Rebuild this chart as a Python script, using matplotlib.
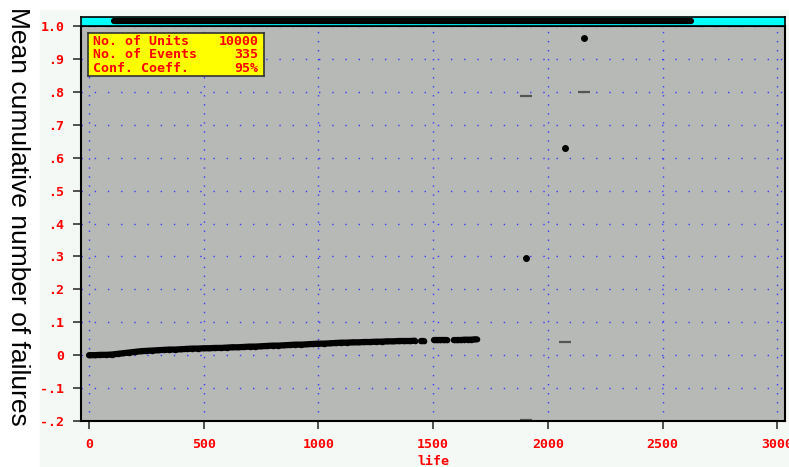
import matplotlib
matplotlib.use("Agg")
import matplotlib.pyplot as plt
from matplotlib.patches import Rectangle

# mean cumulative number of failures
life = [0, 25, 50, 75, 100, 125, 150, 175, 200, 225, 250, 275, 300, 325, 350,
        375, 400, 425, 450, 475, 500, 525, 550, 575, 600, 625, 650, 675, 700,
        725, 750, 775, 800, 825, 850, 875, 900, 925, 950, 975, 1000, 1025,
        1050, 1075, 1100, 1125, 1150, 1175, 1200, 1225, 1250, 1275, 1300,
        1325, 1350, 1375, 1400, 1420, 1448, 1462, 1502, 1517, 1532, 1547,
        1560, 1590, 1605, 1620, 1635, 1650, 1665, 1680, 1690]
mcf = [0.000, 0.000, 0.001, 0.001, 0.002, 0.004, 0.006, 0.008, 0.010, 0.012,
       0.013, 0.014, 0.015, 0.016, 0.017, 0.017, 0.018, 0.019, 0.020, 0.020,
       0.021, 0.021, 0.022, 0.022, 0.023, 0.024, 0.024, 0.025, 0.026, 0.026,
       0.027, 0.028, 0.029, 0.029, 0.030, 0.031, 0.032, 0.032, 0.033, 0.034,
       0.035, 0.035, 0.036, 0.037, 0.038, 0.038, 0.039, 0.039, 0.040, 0.040,
       0.041, 0.041, 0.042, 0.042, 0.043, 0.043, 0.043, 0.044, 0.044, 0.044,
       0.045, 0.045, 0.045, 0.045, 0.045, 0.046, 0.046, 0.046, 0.047, 0.047,
       0.047, 0.048, 0.048]

life_late = [1905, 2077, 2157]
mcf_late = [0.296, 0.629, 0.963]

# confidence bound dashes
bound_life = [1905, 1905, 2077, 2157]
bound_val = [0.787, -0.196, 0.040, 0.800]

info_labels = ["No. of Units", "No. of Events", "Conf. Coeff."]
info_values = ["10000", "335", "95%"]

xticks = [0, 500, 1000, 1500, 2000, 2500, 3000]
yticks = [1.0, 0.9, 0.8, 0.7, 0.6, 0.5, 0.4, 0.3, 0.2, 0.1, 0.0, -0.1, -0.2]
ytick_labels = ["1.0", ".9", ".8", ".7", ".6", ".5", ".4", ".3", ".2", ".1",
                "0", "-.1", "-.2"]

red = "#ff0000"
mono = dict(family="DejaVu Sans Mono", weight="bold", color=red)

W, H = 789, 467
fig = plt.figure(figsize=(7.89, 4.67), dpi=100, facecolor="white")

# light panel behind the chart
bg = fig.add_axes([0, 0, 1, 1], zorder=-10)
bg.set_axis_off()
bg.set_xlim(0, W)
bg.set_ylim(H, 0)
bg.add_patch(Rectangle((40, 10), W - 40, H - 10, color="#f4f9f5"))

ax = fig.add_axes([81 / W, 1 - 421 / H, 704 / W, 395 / H])
ax.set_facecolor("#b6b9b5")
ax.set_xlim(-35, 3034)
ax.set_ylim(-0.2, 1.0)

ax.set_xticks(xticks)
ax.set_xticklabels([str(v) for v in xticks], fontsize=9.5, **mono)
ax.set_yticks(yticks)
ax.set_yticklabels(ytick_labels, fontsize=9.5, **mono)
ax.tick_params(length=6, width=1.2, color="#333333", pad=6)
ax.xaxis.grid(True, color="#3a3aff", linestyle=(0, (1, 5.5)), linewidth=1.0)
ax.yaxis.grid(True, color="#3a3aff", linestyle=(0, (1, 8.5)), linewidth=1.0)
ax.set_axisbelow(True)
for s in ax.spines.values():
    s.set_linewidth(1.5)
    s.set_color("black")

# connect the dense points into a band, broken where the data has gaps
start = 0
for i in range(1, len(life) + 1):
    if i == len(life) or life[i] - life[i - 1] > 25:
        ax.plot(life[start:i], mcf[start:i], color="black", linewidth=4.5,
                solid_capstyle="round")
        start = i
ax.plot(life, mcf, "o", color="black", markersize=4, markeredgewidth=0)
ax.plot(life_late, mcf_late, "o", color="black", markersize=5,
        markeredgewidth=0)
ax.plot(bound_life, bound_val, "_", color="#555555", markersize=9,
        markeredgewidth=1.6)

ax.set_xlabel("life", fontsize=9.5, labelpad=3, **mono)
fig.text(18 / W, 1 - 216 / H, "Mean cumulative number of failures",
         family="Liberation Sans", fontsize=19, rotation=270,
         ha="center", va="center", color="black")

# info box
box = fig.add_axes([88 / W, 1 - 76 / H, 176 / W, 43 / H])
box.set_facecolor("#ffff00")
box.set_xticks([])
box.set_yticks([])
for s in box.spines.values():
    s.set_color("#333333")
    s.set_linewidth(1.2)
for i, (lab, val) in enumerate(zip(info_labels, info_values)):
    yy = 0.8 - i * 0.31
    box.text(0.03, yy, lab, transform=box.transAxes, va="center",
             fontsize=9.5, **mono)
    box.text(0.97, yy, val, transform=box.transAxes, va="center",
             ha="right", fontsize=9.5, **mono)

# scroll bar on top
bar = fig.add_axes([81 / W, 1 - 26 / H, 704 / W, 9 / H])
bar.set_facecolor("#00ffff")
bar.set_xlim(0, 704)
bar.set_ylim(0, 9)
bar.set_xticks([])
bar.set_yticks([])
for s in bar.spines.values():
    s.set_linewidth(1.2)
    s.set_color("black")
bar.plot([33, 610], [5.5, 5.5], color="black", linewidth=4.5,
         solid_capstyle="round")

fig.savefig("out.png", dpi=100, facecolor=fig.get_facecolor())
